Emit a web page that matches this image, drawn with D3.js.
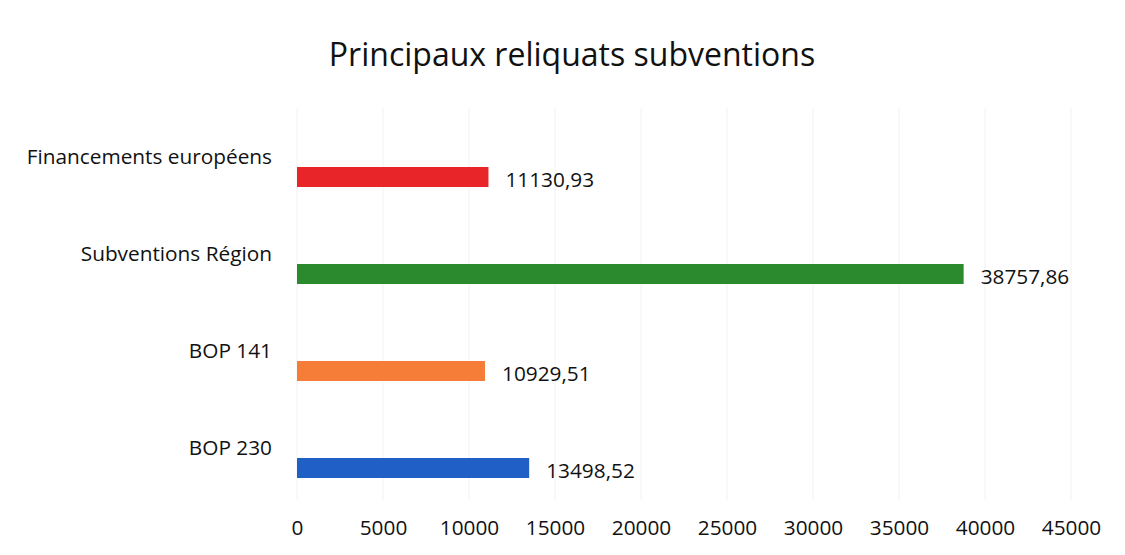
<!DOCTYPE html>
<html><head><meta charset="utf-8">
<script src="https://cdn.jsdelivr.net/npm/d3@7"></script>
<style>body{margin:0;background:#fff}svg{display:block}</style>
</head><body>
<svg id="c" width="1125" height="555"></svg>
<script>
const categories = ["Financements européens","Subventions Région","BOP 141","BOP 230"];
const values = [11130.93, 38757.86, 10929.51, 13498.52];
const valueLabels = ["11130,93","38757,86","10929,51","13498,52"];
const colors = ["#e8262a","#2a8a2d","#f67d37","#1f5fc6"];
const ticks = [0,5000,10000,15000,20000,25000,30000,35000,40000,45000];

const svg = d3.select("#c");
const font = "'Open Sans', sans-serif";
const fs = 20.8;
const x = d3.scaleLinear().domain([0,45000]).range([297,1071]);
const y = d3.scalePoint().domain(categories).range([177,468]);
const bh = 20;

svg.append("g").selectAll("line").data(ticks).join("line")
  .attr("x1",d=>x(d)).attr("x2",d=>x(d)).attr("y1",108).attr("y2",500)
  .attr("stroke","#f2f2f2").attr("stroke-width",1);

svg.append("text").attr("x",572).attr("y",66).attr("text-anchor","middle")
  .attr("font-family",font).attr("font-size",32).attr("fill","#111").text("Principaux reliquats subventions");

svg.append("g").selectAll("rect").data(categories).join("rect")
  .attr("x",x(0)).attr("y",d=>y(d)-bh/2).attr("width",(d,i)=>x(values[i])-x(0)).attr("height",bh)
  .attr("fill",(d,i)=>colors[i]);

svg.append("g").selectAll("text").data(categories).join("text")
  .attr("x",272).attr("y",d=>y(d)-13).attr("text-anchor","end")
  .attr("font-family",font).attr("font-size",fs).attr("fill","#111").text(d=>d);

svg.append("g").selectAll("text").data(categories).join("text")
  .attr("x",(d,i)=>x(values[i])+17).attr("y",d=>y(d)+10)
  .attr("font-family",font).attr("font-size",fs).attr("fill","#111").text((d,i)=>valueLabels[i]);

const ax = d3.axisBottom(x).tickValues(ticks).tickSize(0).tickPadding(0).tickFormat(d3.format("d"));
const g = svg.append("g").attr("transform","translate(0,520)").call(ax);
g.select(".domain").remove();
g.selectAll("text").attr("font-family",font).attr("font-size",fs).attr("fill","#111").attr("dy","0.71em");
</script>
</body></html>
